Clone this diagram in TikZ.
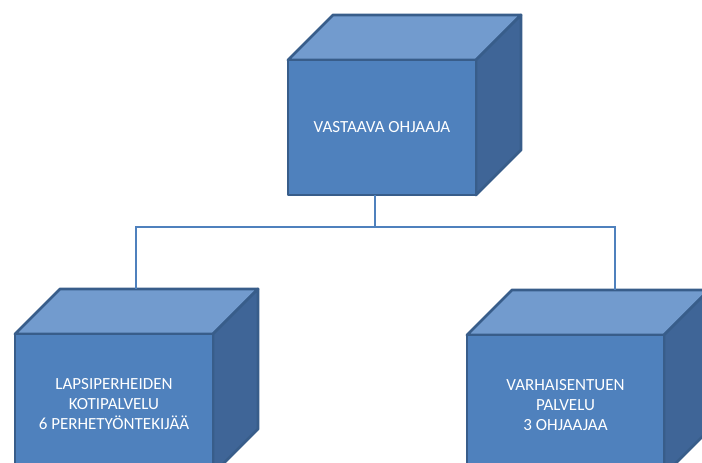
\documentclass[tikz,border=0pt]{standalone}
\usepackage{fontspec}
\setmainfont{Carlito}
\usetikzlibrary{calc,backgrounds}
\definecolor{frontc}{RGB}{79,129,189}
\definecolor{topc}{RGB}{114,155,206}
\definecolor{sidec}{RGB}{63,101,151}
\definecolor{edgec}{RGB}{56,93,138}
\definecolor{linec}{RGB}{79,129,189}
\begin{document}
\begin{tikzpicture}[x=1pt,y=-1pt,
  front/.style={draw=edgec, fill=frontc, line width=2.8pt, line join=round, text=white, align=center,
    font=\fontsize{17}{20}\selectfont, inner sep=0pt, outer sep=0pt},
  topface/.style={draw=edgec, fill=topc, line width=2.8pt, line join=round},
  sideface/.style={draw=edgec, fill=sidec, line width=2.8pt, line join=round},
  conn/.style={draw=linec, line width=1.5pt}]
\clip (0,0) rectangle (702,463);
\node[front, minimum width=188pt, minimum height=135pt] (top) at (382,127.5) {VASTAAVA OHJAAJA};
\node[front, minimum width=198pt, minimum height=140pt] (left) at (114,404) {LAPSIPERHEIDEN\\KOTIPALVELU\\6 PERHETYÖNTEKIJÄÄ};
\node[front, minimum width=197pt, minimum height=140pt] (right) at (565.5,405) {VARHAISENTUEN\\PALVELU\\3 OHJAAJAA};
\begin{scope}[on background layer]
\foreach \n in {top,left,right} {
  \draw[topface] (\n.north west) -- ++(45,-45) -- ($(\n.north east)+(45,-45)$) -- (\n.north east) -- cycle;
  \draw[sideface] (\n.north east) -- ++(45,-45) -- ($(\n.south east)+(45,-45)$) -- (\n.south east) -- cycle;
}
\end{scope}
\coordinate (hub) at ($(top.south)+(-7,32)$);
\coordinate (lend) at ($(left.north)+(22,-45)$);
\coordinate (rend) at ($(right.north)+(49.5,-45)$);
\draw[conn] ($(top.south)+(-7,0)$) -- (hub);
\draw[conn] (lend) |- (hub) -| (rend);
\end{tikzpicture}
\end{document}
